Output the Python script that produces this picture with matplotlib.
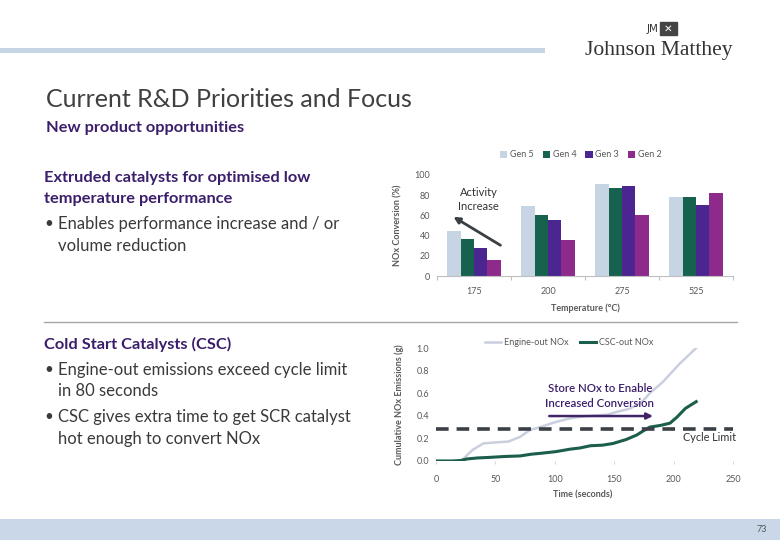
import matplotlib
matplotlib.use("Agg")
import matplotlib.pyplot as plt
import numpy as np
from matplotlib.patches import Rectangle
from matplotlib.lines import Line2D

# ---------------- data ----------------
temps = ["175", "200", "275", "525"]
gens = ["Gen 5", "Gen 4", "Gen 3", "Gen 2"]
gen5 = [45, 69, 91, 78]
gen4 = [37, 60, 87, 78]
gen3 = [28, 55, 89, 70]
gen2 = [16, 36, 60, 82]
bar_y_ticks = [0, 20, 40, 60, 80, 100]

engine_t = [0, 21, 31, 40, 51, 61, 71, 79, 88, 99, 113, 124, 136, 144, 152, 163, 168, 174, 180, 191, 198, 205, 212, 219]
engine_v = [0, 0, 0.10, 0.156, 0.165, 0.172, 0.215, 0.274, 0.30, 0.34, 0.378, 0.395, 0.404, 0.41, 0.434, 0.463, 0.49, 0.53, 0.60, 0.70, 0.78, 0.86, 0.93, 1.0]
csc_t = [0, 14, 21, 26, 35, 45, 58, 71, 80, 88, 101, 113, 121, 130, 140, 149, 160, 169, 175, 180, 189, 197, 203, 210, 219]
csc_v = [0, 0, 0.005, 0.018, 0.027, 0.032, 0.04, 0.045, 0.06, 0.068, 0.083, 0.105, 0.115, 0.135, 0.14, 0.155, 0.19, 0.23, 0.27, 0.30, 0.315, 0.335, 0.39, 0.466, 0.525]
cycle_limit = 0.28
time_ticks = [0, 50, 100, 150, 200, 250]
cum_ticks = [0.0, 0.2, 0.4, 0.6, 0.8, 1.0]

# ---------------- style ----------------
plt.rcParams['font.family'] = ['Lato', 'DejaVu Sans']
W, H = 780, 540
fig = plt.figure(figsize=(W / 100, H / 100), dpi=100)
fig.patch.set_facecolor('white')

def fx(x):
    return x / W

def fy(y):
    return 1 - y / H

PURPLE = '#3b1e6b'
BODY = '#3a3a3a'
TICK = '#595959'

# header band and logo
fig.patches.append(Rectangle((0, fy(53)), fx(545), 5 / H, transform=fig.transFigure,
                             facecolor='#c6d5e6', edgecolor='none'))
fig.text(fx(658), fy(29), "JM", fontsize=7.5, color='#333333', ha='right', va='center',
         family=['DejaVu Sans'])
fig.patches.append(Rectangle((fx(660), fy(35)), 17 / W, 13 / H, transform=fig.transFigure,
                             facecolor='#444444', edgecolor='#444444'))
fig.text(fx(668.5), fy(28.5), "✕", fontsize=7.5, color='white', ha='center', va='center',
         family=['DejaVu Sans'])
fig.text(fx(659), fy(50), "Johnson Matthey", fontsize=15.5, color='#333333', ha='center',
         va='center', family=['Liberation Serif'])

# titles
fig.text(fx(46), fy(100), "Current R&D Priorities and Focus", fontsize=18, color='#404040',
         ha='left', va='center')
fig.text(fx(46), fy(128), "New product opportunities", fontsize=11.8, color=PURPLE,
         fontweight='bold', ha='left', va='center')

# left texts
def heading(y, s):
    fig.text(fx(44), fy(y), s, fontsize=11.8, color=PURPLE, fontweight='bold',
             ha='left', va='center')

def body(y, s, bullet=False):
    if bullet:
        fig.text(fx(44), fy(y), "•", fontsize=11, color=BODY, ha='left', va='center')
    fig.text(fx(58), fy(y), s, fontsize=12, color=BODY, ha='left', va='center')

heading(178, "Extruded catalysts for optimised low")
heading(199, "temperature performance")
body(224, "Enables performance increase and / or", bullet=True)
body(246, "volume reduction")
heading(344, "Cold Start Catalysts (CSC)")
body(370, "Engine-out emissions exceed cycle limit", bullet=True)
body(391, "in 80 seconds")
body(417, "CSC gives extra time to get SCR catalyst", bullet=True)
body(439, "hot enough to convert NOx")

# separator line
fig.lines.append(Line2D([fx(44), fx(737)], [fy(322), fy(322)], transform=fig.transFigure,
                        color='#a6a6a6', lw=1))

# footer band
fig.patches.append(Rectangle((0, 0), 1, 21 / H, transform=fig.transFigure,
                             facecolor='#c9d7e8', edgecolor='none'))
fig.text(fx(762), fy(530), "73", fontsize=6.5, color='#555555', ha='center', va='center')

# ---------------- bar chart ----------------
ax1 = fig.add_axes([fx(437), fy(276), (733 - 437) / W, (276 - 175) / H])
x = np.arange(len(temps))
bw = 0.18
series = [gen5, gen4, gen3, gen2]
colors = ['#c7d4e4', '#17614f', '#4b2590', '#8d2a8c']
for i, (vals, c, lab) in enumerate(zip(series, colors, gens)):
    ax1.bar(x + (i - 1.5) * bw, vals, bw, color=c, label=lab, edgecolor='none')
ax1.set_xlim(-0.5, 3.5)
ax1.set_ylim(0, 100)
ax1.set_yticks(bar_y_ticks)
ax1.set_xticks(x)
ax1.set_xticklabels(temps)
ax1.set_xticks([-0.5, 0.5, 1.5, 2.5, 3.5], minor=True)
ax1.tick_params(axis='x', which='major', length=0, pad=8, labelsize=6.5, labelcolor=TICK)
ax1.tick_params(axis='x', which='minor', length=3, color='#bfbfbf', width=0.8)
ax1.tick_params(axis='y', length=0, pad=5, labelsize=6.5, labelcolor=TICK)
for s in ['top', 'right', 'left']:
    ax1.spines[s].set_visible(False)
ax1.spines['bottom'].set_color('#bfbfbf')
ax1.set_facecolor('none')
ax1.set_ylabel("NOx Conversion (%)", fontsize=6.5, color=TICK, fontweight='bold')
ax1.yaxis.set_label_coords(-0.118, 0.5)
ax1.set_xlabel("Temperature (°C)", fontsize=6.5, color=TICK, fontweight='bold')
ax1.xaxis.set_label_coords(0.5, -0.27)
ax1.legend(loc='center', bbox_to_anchor=(0.486, 1.2), ncol=4, frameon=False, fontsize=6.5,
           handlelength=0.8, handleheight=0.8, handletextpad=0.3, columnspacing=1.0,
           labelcolor=TICK)
ax1.annotate("", xy=(-0.31, 60), xytext=(0.39, 29),
             arrowprops=dict(arrowstyle='-|>', color='#3a3f44', lw=2, mutation_scale=9))
ax1.text(0.06, 76, "Activity\nIncrease", fontsize=8, color='#333333', ha='center',
         va='center', linespacing=1.3)

# ---------------- line chart ----------------
ax2 = fig.add_axes([fx(436), fy(461), (733 - 436) / W, (461 - 348) / H])
ax2.plot(engine_t, engine_v, color='#c9cfdd', lw=1.8, label='Engine-out NOx')
ax2.plot(csc_t, csc_v, color='#1b5e4b', lw=2.2, label='CSC-out NOx')
ax2.plot([0, 250], [cycle_limit, cycle_limit], color='#3a4045', lw=2.6, ls=(0, (3.5, 2.2)))
ax2.set_xlim(0, 250)
ax2.set_ylim(0, 1.0)
ax2.set_xticks(time_ticks)
ax2.set_yticks(cum_ticks)
ax2.set_yticklabels([f"{v:.1f}" for v in cum_ticks])
ax2.tick_params(axis='x', length=2, color='#d9d9d9', pad=8, labelsize=6.5, labelcolor=TICK)
ax2.tick_params(axis='y', length=0, pad=5, labelsize=6.5, labelcolor=TICK)
for s in ['top', 'right', 'left', 'bottom']:
    ax2.spines[s].set_visible(False)
ax2.set_facecolor('none')
ax2.set_ylabel("Cumulative NOx Emissions (g)", fontsize=6.5, color=TICK, fontweight='bold')
ax2.yaxis.set_label_coords(-0.108, 0.5)
ax2.set_xlabel("Time (seconds)", fontsize=6.5, color=TICK, fontweight='bold')
ax2.xaxis.set_label_coords(0.495, -0.26)
ax2.legend(loc='center', bbox_to_anchor=(0.448, 1.05), ncol=2, frameon=False, fontsize=6.5,
           handlelength=1.8, handletextpad=0.3, columnspacing=1.2, labelcolor=TICK)
ax2.text(138, 0.575, "Store NOx to Enable\nIncreased Conversion", fontsize=8.2, color=PURPLE,
         ha='center', va='center', linespacing=1.35, fontweight='semibold')
ax2.annotate("", xy=(185, 0.398), xytext=(93, 0.398),
             arrowprops=dict(arrowstyle='-|>', color='#3f2468', lw=1.8, mutation_scale=9))
ax2.text(253, 0.21, "Cycle Limit", fontsize=7.8, color='#333333', ha='right', va='center')

fig.savefig("out.png", dpi=100, facecolor='white')
